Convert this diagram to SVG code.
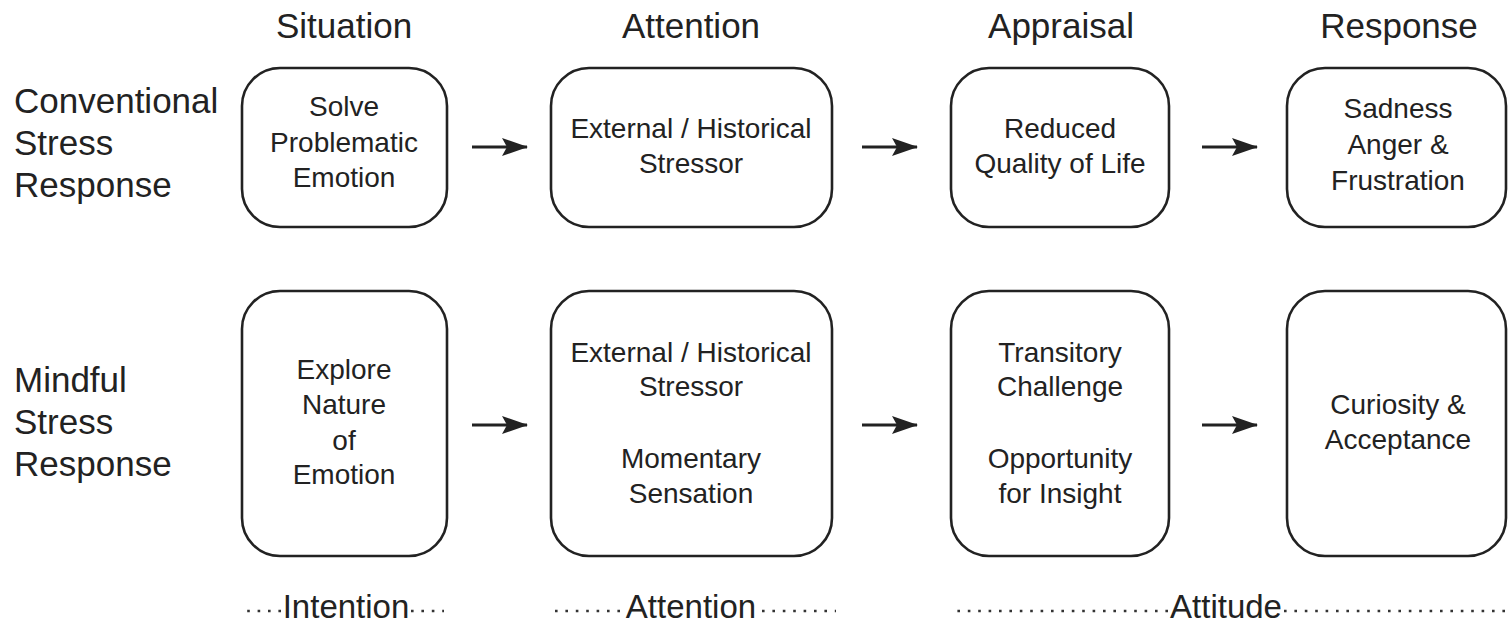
<svg xmlns="http://www.w3.org/2000/svg" width="1508" height="624" viewBox="0 0 1508 624">
<style>
text{font-family:"Liberation Sans",Arial,sans-serif;fill:#222;text-anchor:middle}
.hd{font-size:35px}
.rl{font-size:35px;text-anchor:start}
.bx{font-size:28px}
.ft{font-size:33px}
.box{fill:#fff;stroke:#222;stroke-width:2.6}
.ar{stroke:#222;stroke-width:3;fill:none}
.dot{stroke:#333;stroke-width:2.6;stroke-dasharray:2.6 7.8;fill:none}
</style>
<defs>
<marker id="ah" viewBox="0 0 26 18" refX="25" refY="9" markerWidth="26" markerHeight="18" markerUnits="userSpaceOnUse" orient="auto">
<path d="M0,0 L26,9 L0,18 L5,9 Z" fill="#222"/>
</marker>
</defs>
<rect width="1508" height="624" fill="#fff"/>
<g id="headers">
<text class="hd" x="344" y="38">Situation</text>
<text class="hd" x="691" y="38">Attention</text>
<text class="hd" x="1061" y="38">Appraisal</text>
<text class="hd" x="1399" y="38">Response</text>
</g>
<g id="row-conventional">
<text class="rl" x="14" y="113">Conventional</text>
<text class="rl" x="14" y="155">Stress</text>
<text class="rl" x="14" y="197">Response</text>
</g>
<g id="row-mindful">
<text class="rl" x="14" y="392">Mindful</text>
<text class="rl" x="14" y="434">Stress</text>
<text class="rl" x="14" y="476">Response</text>
</g>
<g id="c1">
<rect class="box" x="242" y="68" width="205" height="159" rx="38"/>
<text class="bx" x="344" y="116">Solve</text>
<text class="bx" x="344" y="152">Problematic</text>
<text class="bx" x="344" y="187">Emotion</text>
</g>
<g id="c2">
<rect class="box" x="551" y="68" width="281" height="159" rx="38"/>
<text class="bx" x="691" y="138">External / Historical</text>
<text class="bx" x="691" y="173">Stressor</text>
</g>
<g id="c3">
<rect class="box" x="951" y="68" width="218" height="159" rx="38"/>
<text class="bx" x="1060" y="138">Reduced</text>
<text class="bx" x="1060" y="173">Quality of Life</text>
</g>
<g id="c4">
<rect class="box" x="1287" y="68" width="219" height="159" rx="38"/>
<text class="bx" x="1398" y="118">Sadness</text>
<text class="bx" x="1398" y="154">Anger &amp;</text>
<text class="bx" x="1398" y="190">Frustration</text>
</g>
<g id="m1">
<rect class="box" x="242" y="291" width="205" height="265" rx="38"/>
<text class="bx" x="344" y="379">Explore</text>
<text class="bx" x="344" y="414">Nature</text>
<text class="bx" x="344" y="450">of</text>
<text class="bx" x="344" y="484">Emotion</text>
</g>
<g id="m2">
<rect class="box" x="551" y="291" width="281" height="265" rx="38"/>
<text class="bx" x="691" y="362">External / Historical</text>
<text class="bx" x="691" y="396">Stressor</text>
<text class="bx" x="691" y="468">Momentary</text>
<text class="bx" x="691" y="503">Sensation</text>
</g>
<g id="m3">
<rect class="box" x="951" y="291" width="218" height="265" rx="38"/>
<text class="bx" x="1060" y="362">Transitory</text>
<text class="bx" x="1060" y="396">Challenge</text>
<text class="bx" x="1060" y="468">Opportunity</text>
<text class="bx" x="1060" y="503">for Insight</text>
</g>
<g id="m4">
<rect class="box" x="1287" y="291" width="219" height="265" rx="38"/>
<text class="bx" x="1398" y="414">Curiosity &amp;</text>
<text class="bx" x="1398" y="449">Acceptance</text>
</g>
<g id="connectors">
<line class="ar" x1="472" y1="147" x2="527" y2="147" marker-end="url(#ah)"/>
<line class="ar" x1="862" y1="147" x2="917" y2="147" marker-end="url(#ah)"/>
<line class="ar" x1="1202" y1="147" x2="1257" y2="147" marker-end="url(#ah)"/>
<line class="ar" x1="472" y1="425" x2="527" y2="425" marker-end="url(#ah)"/>
<line class="ar" x1="862" y1="425" x2="917" y2="425" marker-end="url(#ah)"/>
<line class="ar" x1="1202" y1="425" x2="1257" y2="425" marker-end="url(#ah)"/>
</g>
<g id="footer">
<line class="dot" x1="281" y1="611" x2="240" y2="611"/>
<text class="ft" x="346" y="618">Intention</text>
<line class="dot" x1="411" y1="611" x2="444" y2="611"/>
<line class="dot" x1="620" y1="611" x2="555" y2="611"/>
<text class="ft" x="691" y="618">Attention</text>
<line class="dot" x1="762" y1="611" x2="836" y2="611"/>
<line class="dot" x1="1168" y1="611" x2="950" y2="611"/>
<text class="ft" x="1226" y="618">Attitude</text>
<line class="dot" x1="1284" y1="611" x2="1508" y2="611"/>
</g>
</svg>
